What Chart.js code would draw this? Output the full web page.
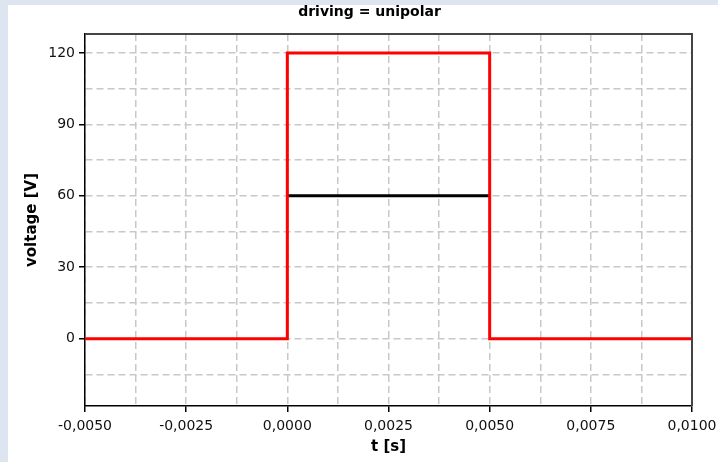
<!DOCTYPE html>
<html>
<head>
<meta charset="utf-8">
<script src="https://cdn.jsdelivr.net/npm/chart.js@4/dist/chart.umd.min.js"></script>
<style>
  html, body { margin: 0; padding: 0; background: #dce5f0; }
  #wrap { position: absolute; left: 8px; top: 5px; width: 710px; height: 457px; background: #fff; }
</style>
</head>
<body>
<div id="wrap"><canvas id="voltageChart" width="710" height="457"></canvas></div>
<script>
// driving voltage vs time
const chartTitle = 'driving = unipolar';
const timeSteps = [-0.005, 0, 0, 0.005, 0.005, 0.01];
const drivingVoltage = [0, 0, 120, 120, 0, 0];
const meanTime = [0, 0.005];
const meanVoltage = [60, 60];

const xTicks = [-0.005, -0.0025, 0, 0.0025, 0.005, 0.0075, 0.01];
const yTicks = [0, 30, 60, 90, 120];
const yMin = -28.3;
const yMax = 128;

// grid lines sit on every tick and halfway between neighbours
function withHalfSteps(ticks, extraBelow) {
    const out = [];
    const step = ticks[1] - ticks[0];
    if (extraBelow) out.push(ticks[0] - step / 2);
    ticks.forEach(function(v, i) {
        out.push(v);
        if (i < ticks.length - 1) out.push((v + ticks[i + 1]) / 2);
    });
    return out;
}
const xGrid = withHalfSteps(xTicks, false);
const yGrid = withHalfSteps(yTicks, true);

function isMajor(list, v) {
    return list.some(function(t) { return Math.abs(t - v) < 1e-9; });
}

const toPoints = (xs, ys) => xs.map((x, i) => ({ x: x, y: ys[i] }));

const frame = {
    id: 'frame',
    afterDraw(chart) {
        const { ctx, chartArea: a } = chart;
        ctx.save();
        ctx.strokeStyle = '#444';
        ctx.lineWidth = 2;
        ctx.beginPath();
        ctx.moveTo(a.left, a.top);
        ctx.lineTo(a.right, a.top);
        ctx.lineTo(a.right, a.bottom);
        ctx.stroke();
        ctx.fillStyle = '#000';
        ctx.font = 'bold 14px "DejaVu Sans"';
        ctx.textAlign = 'center';
        ctx.textBaseline = 'middle';
        ctx.fillText(chartTitle, 361.5, 7);
        ctx.restore();
    }
};

const gridOpts = (list) => ({
    color: '#c8c8c8',
    lineWidth: 1.5,
    tickLength: 6,
    tickWidth: 1.5,
    tickBorderDash: [],
    tickColor: function(c) {
        return c.tick && isMajor(list, c.tick.value) ? '#000' : 'rgba(0,0,0,0)';
    }
});

const ctx = document.getElementById('voltageChart').getContext('2d');
new Chart(ctx, {
    type: 'line',
    data: {
        datasets: [{
            data: toPoints(timeSteps, drivingVoltage),
            borderColor: '#ff0000',
            borderWidth: 3,
            pointRadius: 0,
            tension: 0
        }, {
            data: toPoints(meanTime, meanVoltage),
            borderColor: '#000000',
            borderWidth: 3,
            pointRadius: 0,
            tension: 0
        }]
    },
    options: {
        responsive: false,
        animation: false,
        layout: { padding: { top: 29, right: 26, left: 0, bottom: 0 } },
        plugins: {
            legend: { display: false },
            tooltip: { enabled: false }
        },
        scales: {
            x: {
                type: 'linear',
                min: xTicks[0],
                max: xTicks[xTicks.length - 1],
                afterBuildTicks: function(scale) {
                    scale.ticks = xGrid.map(v => ({ value: v }));
                },
                afterFit: function(scale) {
                    scale.height = 56;
                    scale.paddingLeft = 0;
                    scale.paddingRight = 0;
                },
                grid: gridOpts(xTicks),
                border: { color: '#000', width: 1.5, dash: [7, 4] },
                ticks: {
                    padding: 6,
                    maxRotation: 0,
                    autoSkip: false,
                    color: '#111',
                    font: { family: 'DejaVu Sans', size: 14 },
                    callback: function(v) {
                        return isMajor(xTicks, v) ? v.toFixed(4).replace('.', ',') : '';
                    }
                },
                title: {
                    display: true,
                    text: 't [s]',
                    color: '#000',
                    font: { family: 'DejaVu Sans', size: 15, weight: 'bold' },
                    padding: { top: 0, bottom: 6 }
                }
            },
            y: {
                min: yMin,
                max: yMax,
                afterBuildTicks: function(scale) {
                    scale.ticks = yGrid.map(v => ({ value: v }));
                },
                afterFit: function(scale) { scale.width = 77; },
                grid: gridOpts(yTicks),
                border: { color: '#000', width: 1.5, dash: [7, 4] },
                ticks: {
                    padding: 4,
                    autoSkip: false,
                    color: '#111',
                    font: { family: 'DejaVu Sans', size: 14 },
                    callback: function(v) {
                        return isMajor(yTicks, v) ? String(v) : '';
                    }
                },
                title: {
                    display: true,
                    text: 'voltage [V]',
                    color: '#000',
                    font: { family: 'DejaVu Sans', size: 15, weight: 'bold' },
                    padding: { top: 15, bottom: 0 }
                }
            }
        }
    },
    plugins: [frame]
});
</script>
</body>
</html>
